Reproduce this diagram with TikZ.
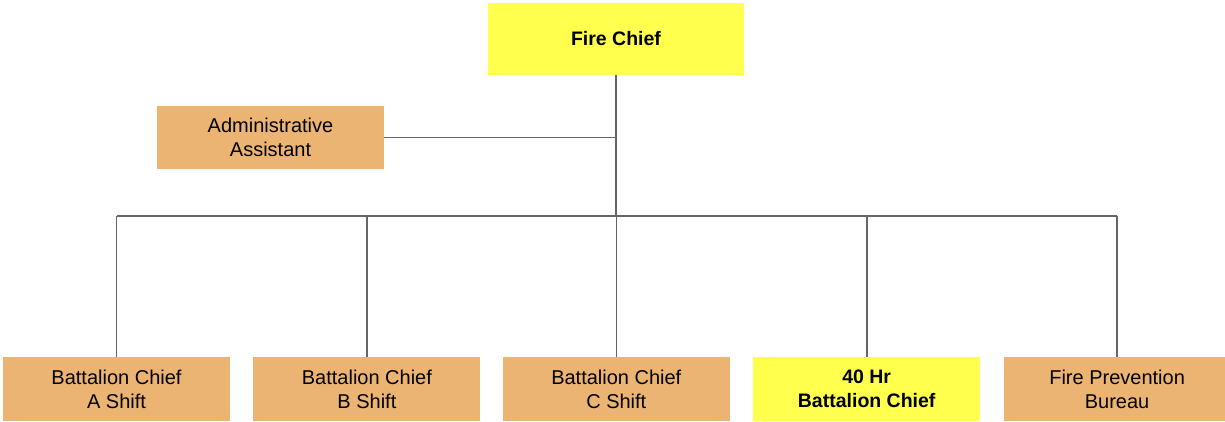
\documentclass[tikz,border=0pt]{standalone}
\usepackage{fontspec}
\setmainfont{Liberation Sans}
\usepackage{xcolor}
\usepackage{tikz}
\usetikzlibrary{positioning}

\definecolor{chiefyellow}{HTML}{FFFF4D}
\definecolor{stafforange}{HTML}{ECB473}
\definecolor{linegray}{HTML}{666666}

\begin{document}
\begin{tikzpicture}[x=1pt,y=-1pt]
      \tikzset{chief/.style={rectangle,fill=chiefyellow,minimum width=256pt,minimum height=72pt,align=center,font=\fontsize{19.5}{24}\selectfont\bfseries}}
      \tikzset{staff/.style={rectangle,fill=stafforange,minimum width=227pt,minimum height=64pt,align=center,font=\fontsize{20}{24}\selectfont}}
      \tikzset{boss/.style={staff,fill=chiefyellow,font=\fontsize{19.5}{24}\selectfont\bfseries}}
      \tikzset{wire/.style={draw=linegray,line width=1.6pt}}

      \useasboundingbox (0,0) rectangle (1225,421);

      \node[chief] (fc) at (616,39) {Fire Chief};
      \node[staff,minimum height=63pt] (aa) at (270.5,137.5) {Administrative\\Assistant};

      \node[staff] (bca) at (116.5,389) {Battalion Chief\\A Shift};
      \node[staff] (bcb) [right=23pt of bca] {Battalion Chief\\B Shift};
      \node[staff] (bcc) [right=22pt of bcb] {Battalion Chief\\C Shift};
      \node[boss] (bcd) [right=23pt of bcc] {40 Hr\\Battalion Chief};
      \node[staff] (fpb) [right=23pt of bcd] {Fire Prevention\\Bureau};

      \coordinate (bus) at (616,216);

      \draw[wire] (fc.south) -- (bus);
      \draw[wire] (aa.east) -- (aa.east -| fc.south);
      \draw[wire] (bus -| bca.north) -- (bus -| fpb.north);
      \foreach \n in {bca,bcb,bcc,bcd,fpb}
        \draw[wire] (bus -| \n.north) -- (\n.north);

\end{tikzpicture}
\end{document}
